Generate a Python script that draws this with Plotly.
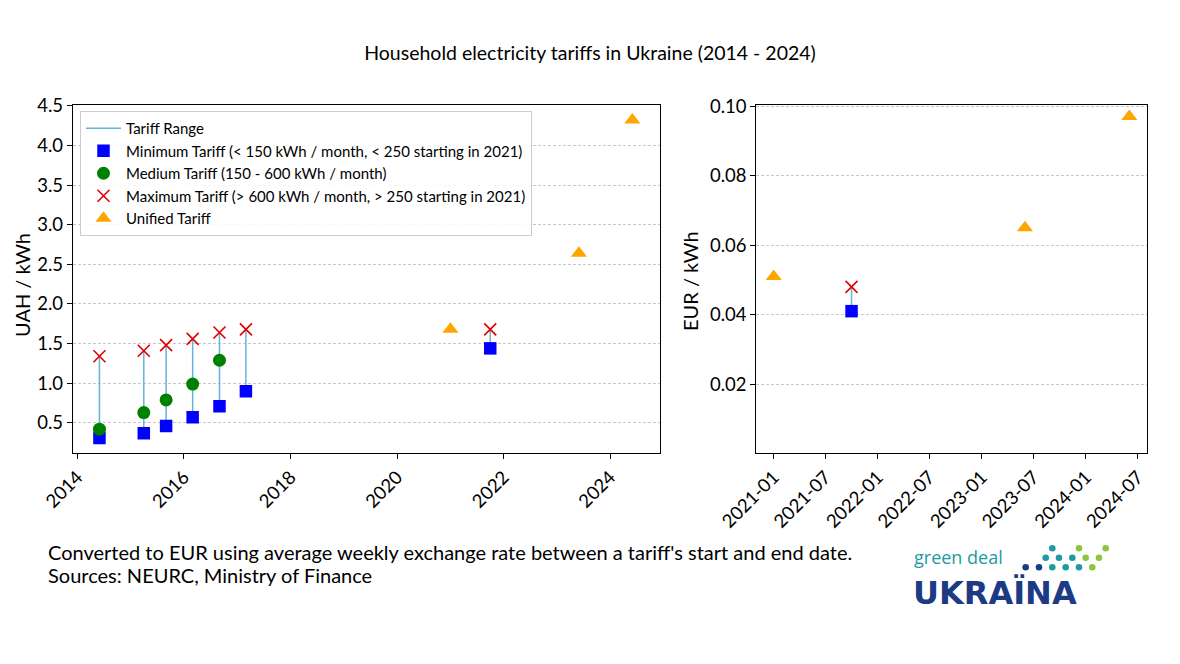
import plotly.graph_objects as go

# ---------------- data ----------------
tariff_dates_uah = ["2014-06-01", "2015-04-01", "2015-09-01", "2016-03-01",
                    "2016-09-01", "2017-03-01", "2021-10-01"]
min_uah = [0.31, 0.37, 0.46, 0.57, 0.71, 0.90, 1.44]
med_uah = [0.42, 0.63, 0.79, 0.99, 1.29, None, None]
max_uah = [1.34, 1.41, 1.48, 1.56, 1.64, 1.68, 1.68]

unified_dates = ["2021-01-01", "2023-06-01", "2024-06-01"]
unified_uah = [1.68, 2.64, 4.32]

tariff_dates_eur = ["2021-10-01"]
min_eur = [0.041]
max_eur = [0.048]
unified_eur = [0.051, 0.065, 0.097]

uah_ticks = [0.5, 1.0, 1.5, 2.0, 2.5, 3.0, 3.5, 4.0, 4.5]
eur_ticks = [0.02, 0.04, 0.06, 0.08, 0.10]

# ---------------- styling ----------------
W, H = 1180, 664
FONT = "Lato"
C_RANGE = "#62b5d9"
C_MIN = "#0000ff"
C_MED = "#008000"
C_MAX = "#e00000"
C_UNI = "#ffa500"


def px_x(p):
    return p / W


def px_y(p):
    return 1 - p / H


def range_lines(dates, lo, hi):
    xs, ys = [], []
    for d, a, b in zip(dates, lo, hi):
        xs += [d, d, None]
        ys += [a, b, None]
    return xs, ys


fig = go.Figure()

# ---- left panel (UAH) ----
rx, ry = range_lines(tariff_dates_uah, min_uah, max_uah)
fig.add_trace(go.Scatter(x=rx, y=ry, mode="lines", name="Tariff Range",
                         line=dict(color=C_RANGE, width=1.5),
                         xaxis="x", yaxis="y", legendgroup="r"))
fig.add_trace(go.Scatter(x=tariff_dates_uah, y=min_uah, mode="markers",
                         name="Minimum Tariff (< 150 kWh / month, < 250 starting in 2021)",
                         marker=dict(symbol="square", size=12.5, color=C_MIN),
                         xaxis="x", yaxis="y", legendgroup="min"))
fig.add_trace(go.Scatter(x=tariff_dates_uah, y=med_uah, mode="markers",
                         name="Medium Tariff (150 - 600 kWh / month)",
                         marker=dict(symbol="circle", size=13, color=C_MED),
                         xaxis="x", yaxis="y", legendgroup="med"))
fig.add_trace(go.Scatter(x=tariff_dates_uah, y=max_uah, mode="markers",
                         name="Maximum Tariff (> 600 kWh / month, > 250 starting in 2021)",
                         marker=dict(symbol="x-thin", size=12, color=C_MAX,
                                     line=dict(color=C_MAX, width=1.6)),
                         xaxis="x", yaxis="y", legendgroup="max"))
fig.add_trace(go.Scatter(x=unified_dates, y=unified_uah, mode="markers",
                         name="Unified Tariff",
                         marker=dict(symbol="triangle-up", size=14, color=C_UNI),
                         xaxis="x", yaxis="y", legendgroup="uni"))

# ---- right panel (EUR) ----
rx2, ry2 = range_lines(tariff_dates_eur, min_eur, max_eur)
fig.add_trace(go.Scatter(x=rx2, y=ry2, mode="lines", showlegend=False,
                         line=dict(color=C_RANGE, width=1.5),
                         xaxis="x2", yaxis="y2", legendgroup="r"))
fig.add_trace(go.Scatter(x=tariff_dates_eur, y=min_eur, mode="markers", showlegend=False,
                         marker=dict(symbol="square", size=12.5, color=C_MIN),
                         xaxis="x2", yaxis="y2", legendgroup="min"))
fig.add_trace(go.Scatter(x=tariff_dates_eur, y=max_eur, mode="markers", showlegend=False,
                         marker=dict(symbol="x-thin", size=12, color=C_MAX,
                                     line=dict(color=C_MAX, width=1.6)),
                         xaxis="x2", yaxis="y2", legendgroup="max"))
fig.add_trace(go.Scatter(x=unified_dates, y=unified_eur, mode="markers", showlegend=False,
                         marker=dict(symbol="triangle-up", size=14, color=C_UNI),
                         xaxis="x2", yaxis="y2", legendgroup="uni"))

axis_common = dict(showline=True, linecolor="black", linewidth=1.2, mirror=True,
                   ticks="outside", ticklen=5, tickcolor="black", tickwidth=1,
                   tickfont=dict(family=FONT, size=18.5, color="black"), zeroline=False,
                   automargin=False)
grid_common = dict(showgrid=True, gridcolor="#c8c8c8", gridwidth=0.8, griddash="3px,2px")

y_dom = [px_y(453), px_y(105)]

fig.update_layout(
    width=W, height=H,
    margin=dict(l=0, r=0, t=0, b=0, pad=0, autoexpand=False),
    paper_bgcolor="white", plot_bgcolor="white",
    font=dict(family=FONT, color="black"),
    title=dict(text="Household electricity tariffs in Ukraine (2014 - 2024)",
               x=0.5, xanchor="center", y=px_y(53), yanchor="middle",
               font=dict(family=FONT, size=19.5, color="black")),
    xaxis=dict(domain=[px_x(72.9), px_x(659.6)], anchor="y", type="date",
               range=["2013-12-01", "2024-12-05"], tick0="2014-01-01", dtick="M24",
               tickformat="%Y", tickangle=-45, showgrid=False, **axis_common),
    yaxis=dict(domain=y_dom, anchor="x", range=[0.12, 4.51], tickvals=uah_ticks,
               tickformat=".1f", **grid_common, **axis_common),
    xaxis2=dict(domain=[px_x(756.3), px_x(1147.3)], anchor="y2", type="date",
                range=["2020-11-01", "2024-08-03"], tick0="2021-01-01", dtick="M6",
                tickformat="%Y-%m", tickangle=-45, showgrid=False, **axis_common),
    yaxis2=dict(domain=y_dom, anchor="x2", range=[0.0002, 0.1003], tickvals=eur_ticks,
                tickformat=".2f", **grid_common, **axis_common),
    legend=dict(x=px_x(80), y=px_y(111), xanchor="left", yanchor="top",
                bgcolor="rgba(255,255,255,0.85)", bordercolor="#cccccc", borderwidth=1,
                font=dict(family=FONT, size=15, color="black"),
                itemwidth=35, tracegroupgap=0),
    showlegend=True,
)

annotations = [
    dict(text="UAH / kWh", x=px_x(22), y=px_y(285), xref="paper", yref="paper",
         textangle=-90, showarrow=False, font=dict(family=FONT, size=20, color="black"),
         xanchor="center", yanchor="middle"),
    dict(text="EUR / kWh", x=px_x(690), y=px_y(281), xref="paper", yref="paper",
         textangle=-90, showarrow=False, font=dict(family=FONT, size=20, color="black"),
         xanchor="center", yanchor="middle"),
    dict(text="Converted to EUR using average weekly exchange rate between a tariff's start and end date.",
         x=px_x(46), y=px_y(552), xref="paper", yref="paper", showarrow=False,
         xanchor="left", yanchor="middle", font=dict(family=FONT, size=20, color="black")),
    dict(text="Sources: NEURC, Ministry of Finance",
         x=px_x(46), y=px_y(575), xref="paper", yref="paper", showarrow=False,
         xanchor="left", yanchor="middle", font=dict(family=FONT, size=20, color="black")),
    # logo text
    dict(text="green deal", x=px_x(913), y=px_y(557), xref="paper", yref="paper",
         showarrow=False, xanchor="left", yanchor="middle", borderpad=0,
         font=dict(family="Open Sans", size=18, color="#1e9aa3")),
    dict(text="<b>UKRAÏNA</b>", x=px_x(912), y=px_y(593), xref="paper", yref="paper",
         showarrow=False, xanchor="left", yanchor="middle", borderpad=0,
         font=dict(family="DejaVu Sans", size=32, color="#1d3a84")),
]
fig.update_layout(annotations=annotations)

# logo dots (decoration)
TEAL, GREEN, NAVY = "#1e9aa3", "#8cc63f", "#1d3a84"
dots = [
    (1052.3, 548.3, TEAL), (1079.0, 548.3, GREEN), (1105.7, 548.3, GREEN),
    (1045.7, 557.7, TEAL), (1059.0, 557.7, TEAL), (1072.3, 557.7, TEAL),
    (1085.7, 557.7, GREEN), (1099.0, 557.7, GREEN),
    (1025.7, 567.3, NAVY), (1039.0, 567.3, NAVY), (1052.3, 567.3, TEAL),
    (1065.7, 567.3, TEAL), (1079.0, 567.3, TEAL), (1092.3, 567.3, GREEN),
]
shapes = []
r = 3.3
for cx, cy, c in dots:
    shapes.append(dict(type="circle", xref="paper", yref="paper",
                       x0=px_x(cx - r), x1=px_x(cx + r), y0=px_y(cy + r), y1=px_y(cy - r),
                       fillcolor=c, line=dict(width=0)))
fig.update_layout(shapes=shapes)

fig.write_html("out.html")
